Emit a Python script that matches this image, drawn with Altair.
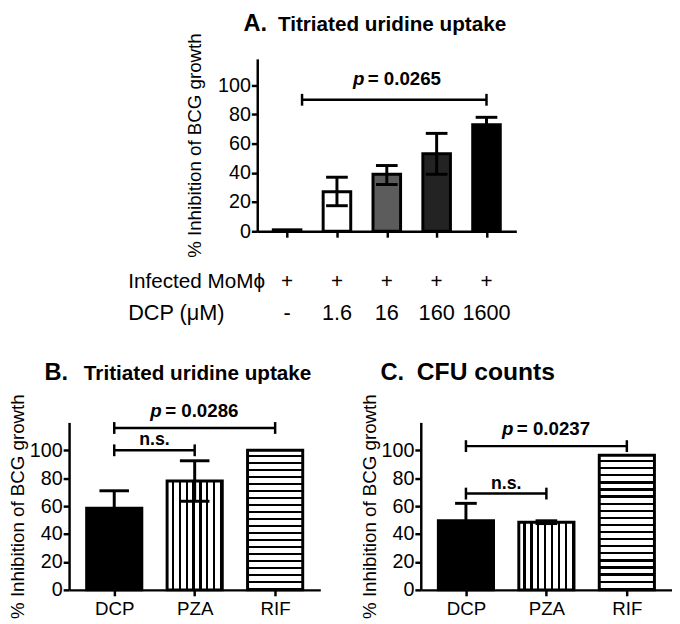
import altair as alt
import pandas as pd

FONT = "Liberation Sans"
YTITLE = "% Inhibition of BCG growth"

# ---------------- Panel A ----------------
a_title = ["A.", "Titriated uridine uptake"]
a_row_heads = ["Infected MoMϕ", "DCP (μM)"]
a_infected = ["+", "+", "+", "+", "+"]
a_dcp = ["-", "1.6", "16", "160", "1600"]
a_mean = [1, 27, 39, 53, 73]
a_lo = [1, 17.5, 32, 39, 68]
a_hi = [1, 37, 45, 67, 78]
a_fill = ["white", "white", "#5c5c5c", "#232323", "black"]
a_br_x1 = [0.3]
a_br_x2 = [4]
a_br_y = [90]
a_br_lead = ["p"]
a_br_label = ["= 0.0265"]

# ---------------- Panel B ----------------
b_title = ["B.", "Tritiated uridine uptake"]
b_cats = ["DCP", "PZA", "RIF"]
b_mean = [58.5, 78, 100]
b_lo = [46, 63.5, 100]
b_hi = [71, 92.5, 100]
b_br_x1 = [0, 0]
b_br_x2 = [2, 1]
b_br_y = [116, 100]
b_br_lead = ["p", ""]
b_br_label = ["= 0.0286", "n.s."]

# ---------------- Panel C ----------------
c_title = ["C.", "CFU counts"]
c_cats = ["DCP", "PZA", "RIF"]
c_mean = [49.5, 48.5, 96.5]
c_lo = [37, 47.5, 96.5]
c_hi = [62, 49.5, 96.5]
c_br_x1 = [0, 0]
c_br_x2 = [2, 1]
c_br_y = [103, 69]
c_br_lead = ["p", ""]
c_br_label = ["= 0.0237", "n.s."]


def stripes(n, vertical, frac=0.32):
    stops = []
    for k in range(n):
        a = k / n
        b = (k + 1 - frac) / n
        c = min((k + 1) / n, 1.0)
        stops += [
            alt.GradientStop(color="white", offset=a),
            alt.GradientStop(color="white", offset=b),
            alt.GradientStop(color="black", offset=b),
            alt.GradientStop(color="black", offset=c),
        ]
    if vertical:
        return alt.LinearGradient(gradient="linear", stops=stops, x1=0, y1=0, x2=1, y2=0)
    return alt.LinearGradient(gradient="linear", stops=stops, x1=0, y1=0, x2=0, y2=1)


def panel(s):
    n = len(s["mean"])
    df = pd.DataFrame({"i": list(range(n)), "mean": s["mean"], "lo": s["lo"], "hi": s["hi"]})
    xs = alt.Scale(domain=[-0.5, n - 0.5], nice=False, zero=False)
    ys = alt.Scale(domain=[0, s["ymax"]], nice=False, zero=True)
    if s["xlabels"]:
        arr = "[" + ",".join("'%s'" % t for t in s["xlabels"]) + "]"
        xaxis = alt.Axis(values=list(range(n)), labelExpr=arr + "[datum.value]", title=None,
                         grid=False, labelPadding=4, labelFontSize=19)
    else:
        xaxis = alt.Axis(values=list(range(n)), labels=False, title=None, grid=False)
    yaxis = alt.Axis(values=[0, 20, 40, 60, 80, 100], title=YTITLE, grid=False,
                     titlePadding=s["tpad"])
    X = alt.X("i:Q", scale=xs, axis=xaxis)
    Y = alt.Y("mean:Q", scale=ys, axis=yaxis)
    base = alt.Chart(df)
    layers = []
    for i, f in enumerate(s["fills"]):
        layers.append(
            base.transform_filter(alt.datum.i == i)
            .mark_bar(size=s["bar_w"], fill=f, stroke="black", strokeWidth=3, opacity=1)
            .encode(x=X, y=Y)
        )
    err = base.transform_filter("datum.hi > datum.lo")
    layers.append(
        err.mark_rule(color="black", strokeWidth=3).encode(
            x=X, y=alt.Y("lo:Q", scale=ys, axis=yaxis), y2="hi:Q")
    )
    layers.append(
        err.transform_fold(["lo", "hi"], as_=["k", "v"])
        .mark_tick(orient="horizontal", size=s["cap_w"], thickness=3, color="black", opacity=1)
        .encode(x=X, y=alt.Y("v:Q", scale=ys, axis=yaxis))
    )
    bdf = pd.DataFrame({"x1": s["br_x1"], "x2": s["br_x2"], "y": s["br_y"],
                        "lead": s["br_lead"], "label": s["br_label"]})
    bb = alt.Chart(bdf)
    BY = alt.Y("y:Q", scale=ys, axis=yaxis)
    layers.append(
        bb.mark_rule(color="black", strokeWidth=2.5).encode(
            x=alt.X("x1:Q", scale=xs, axis=xaxis), x2="x2:Q", y=BY)
    )
    layers.append(
        bb.transform_fold(["x1", "x2"], as_=["k", "xe"])
        .mark_tick(orient="vertical", size=12, thickness=2.5, color="black", opacity=1)
        .encode(x=alt.X("xe:Q", scale=xs, axis=xaxis), y=BY)
    )
    bm = bb.transform_calculate(mid="(datum.x1 + datum.x2) / 2")
    MX = alt.X("mid:Q", scale=xs, axis=xaxis)
    pp = bm.transform_filter("datum.lead != ''")
    layers.append(
        pp.mark_text(fontSize=19, fontWeight="bold", fontStyle="italic", align="left",
                     baseline="alphabetic", dx=s["p_dx"], dy=s["p_dy"])
        .encode(x=MX, y=BY, text="lead:N")
    )
    layers.append(
        pp.mark_text(fontSize=19, fontWeight="bold", align="left",
                     baseline="alphabetic", dx=s["p_dx"] + 15, dy=s["p_dy"])
        .encode(x=MX, y=BY, text="label:N")
    )
    ns = bm.transform_filter("datum.lead == ''")
    layers.append(
        ns.mark_text(fontSize=18, fontWeight="bold", align="center", baseline="alphabetic", dy=-5)
        .encode(x=MX, y=BY, text="label:N")
    )
    # panel title: big letter + bold text
    layers.append(
        alt.Chart(pd.DataFrame({"t": [s["title"][0]]}))
        .mark_text(fontSize=24, fontWeight="bold", align="left", baseline="alphabetic")
        .encode(x=alt.value(s["t_x"][0]), y=alt.value(s["t_y"]), text="t:N")
    )
    layers.append(
        alt.Chart(pd.DataFrame({"t": [s["title"][1]]}))
        .mark_text(fontSize=s["t_fs"], fontWeight="bold", align="left", baseline="alphabetic")
        .encode(x=alt.value(s["t_x"][1]), y=alt.value(s["t_y"]), text="t:N")
    )
    if s.get("rows"):
        rdf = pd.DataFrame({"i": list(range(n)), "inf": a_infected, "dcp": a_dcp})
        rc = alt.Chart(rdf)
        layers.append(rc.mark_text(fontSize=21, baseline="middle").encode(
            x=alt.X("i:Q", scale=xs, axis=xaxis), y=alt.value(s["height"] + 52), text="inf:N"))
        layers.append(rc.mark_text(fontSize=22, baseline="middle").encode(
            x=alt.X("i:Q", scale=xs, axis=xaxis), y=alt.value(s["height"] + 83), text="dcp:N"))
        layers.append(
            alt.Chart(pd.DataFrame({"t": [a_row_heads[0]]}))
            .mark_text(fontSize=21, align="left", baseline="middle")
            .encode(x=alt.value(-131), y=alt.value(s["height"] + 52), text="t:N"))
        layers.append(
            alt.Chart(pd.DataFrame({"t": [a_row_heads[1]]}))
            .mark_text(fontSize=22, align="left", baseline="middle")
            .encode(x=alt.value(-131), y=alt.value(s["height"] + 83), text="t:N"))
        # invisible anchor fixing the left extent of panel A
        layers.append(
            alt.Chart(pd.DataFrame({"t": ["."]}))
            .mark_text(fontSize=10, align="left", baseline="middle", opacity=0)
            .encode(x=alt.value(-140), y=alt.value(s["height"]), text="t:N"))
    return alt.layer(*layers).properties(width=s["width"], height=s["height"])


A = panel(dict(mean=a_mean, lo=a_lo, hi=a_hi, fills=a_fill, ymax=118, width=263, height=175,
               xlabels=None, tpad=13, bar_w=28, cap_w=22,
               br_x1=a_br_x1, br_x2=a_br_x2, br_y=a_br_y, br_lead=a_br_lead, br_label=a_br_label,
               p_dx=-42, p_dy=-15, title=a_title, t_x=[-14, 21], t_y=-28, t_fs=21, rows=True))
B = panel(dict(mean=b_mean, lo=b_lo, hi=b_hi, fills=["black", stripes(8, True), stripes(20, False)],
               ymax=120, width=255, height=170, xlabels=b_cats, tpad=2, bar_w=56, cap_w=30,
               br_x1=b_br_x1, br_x2=b_br_x2, br_y=b_br_y, br_lead=b_br_lead, br_label=b_br_label,
               p_dx=-45, p_dy=-11, title=b_title, t_x=[-25, 15], t_y=-43, t_fs=21))
C = panel(dict(mean=c_mean, lo=c_lo, hi=c_hi, fills=["black", stripes(8, True), stripes(19, False)],
               ymax=120, width=255, height=170, xlabels=c_cats, tpad=2, bar_w=56, cap_w=22,
               br_x1=c_br_x1, br_x2=c_br_x2, br_y=c_br_y, br_lead=c_br_lead, br_label=c_br_label,
               p_dx=-45, p_dy=-11, title=c_title, t_x=[-41, -4], t_y=-43, t_fs=25))

# empty spacer that shifts panel A to the right of the column origin
spacer = (
    alt.Chart(pd.DataFrame({"t": [""]}))
    .mark_text(opacity=0)
    .encode(x=alt.value(0), y=alt.value(0), text="t:N")
    .properties(width=51, height=10)
)

chart = (
    alt.vconcat(alt.hconcat(spacer, A, spacing=0), alt.hconcat(B, C, spacing=40), spacing=37)
    .properties(padding=0)
    .configure_view(stroke=None)
    .configure_text(font=FONT, color="black")
    .configure_axis(domainColor="black", domainWidth=2.5, tickColor="black", tickWidth=2.5,
                    tickSize=6, labelColor="black", labelFont=FONT, labelFontSize=20,
                    titleFont=FONT, titleFontSize=19, titleFontWeight="normal",
                    titleColor="black", labelPadding=1, grid=False)
)

chart.save("out.html", embed_options={"renderer": "svg", "actions": False})
